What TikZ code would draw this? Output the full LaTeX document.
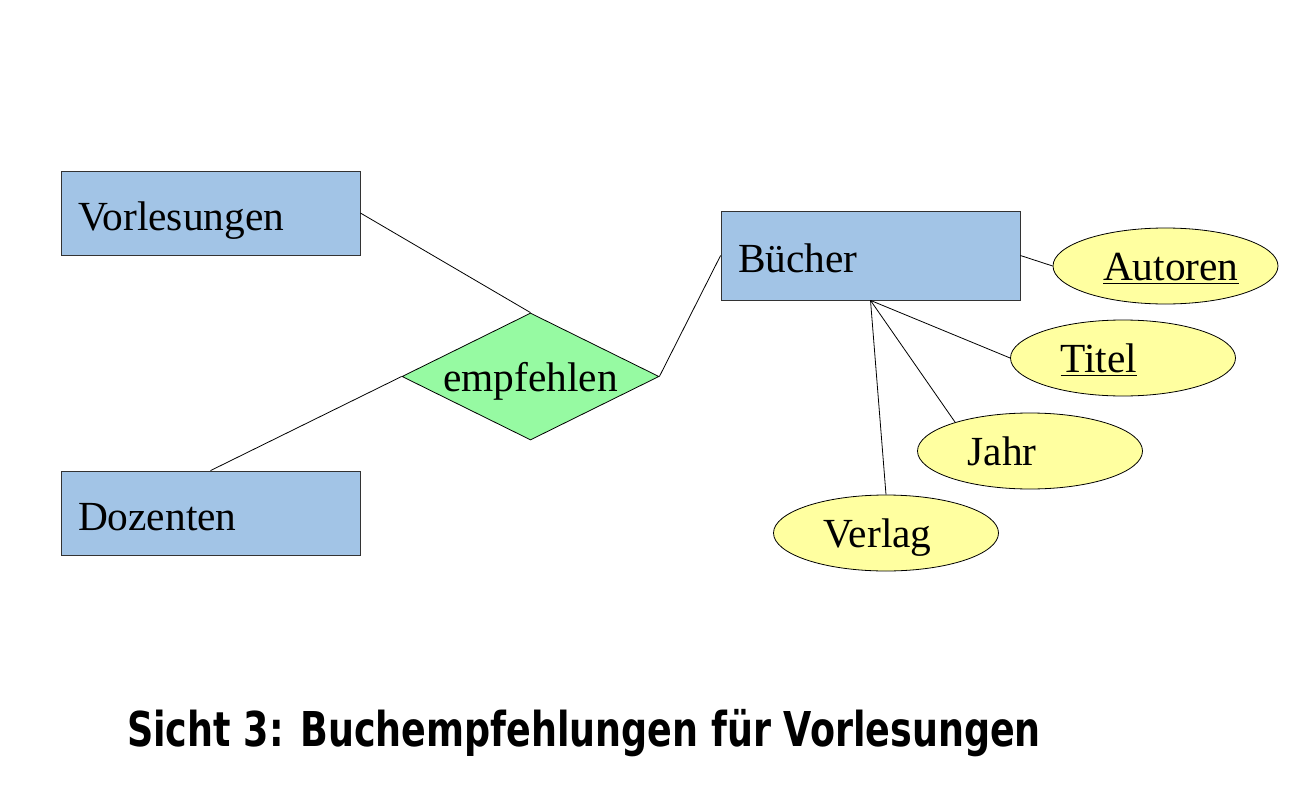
\documentclass[tikz,border=0pt]{standalone}
\usepackage{fontspec}
\setmainfont{Liberation Serif}
\newfontfamily\captfont{DejaVu Sans}[FakeStretch=0.76]
\usetikzlibrary{shapes.geometric}
\definecolor{entblue}{RGB}{162,196,230}
\definecolor{relgreen}{RGB}{150,250,162}
\definecolor{attyellow}{RGB}{255,255,160}
\begin{document}
\begin{tikzpicture}[x=0.5pt,y=-0.5pt,
  entity/.style={rectangle,draw=black!80,fill=entblue,minimum width=149.5pt,minimum height=42pt,
    inner xsep=8.5pt,text width=132.5pt,text height=17pt,text depth=0pt,align=left,
    font=\fontsize{20.7}{24}\selectfont},
  relation/.style={diamond,draw=black,fill=relgreen,inner sep=0pt,shape aspect=2,
    minimum width=128.5pt,minimum height=63.5pt,text height=15pt,text depth=0pt,
    font=\fontsize{20.7}{24}\selectfont},
  attrib/.style={ellipse,draw=black,fill=attyellow,minimum width=112.5pt,minimum height=38pt,
    inner xsep=0pt,text width=62.5pt,text height=14pt,text depth=0pt,align=left,
    font=\fontsize{20.7}{24}\selectfont}]
\useasboundingbox (0,0) rectangle (1316,808);
\node[entity] (vorl) at (210.5,213) {Vorlesungen};
\node[entity] (doz) at (210.5,513) {Dozenten};
\node[entity,minimum height=44.5pt] (buch) at (870.5,255.5) {B\"ucher};
\node[relation] (empf) at (530.5,376.5) {empfehlen};
\node[attrib] (autor) at (1165.5,266) {\underline{Autoren}};
\node[attrib] (titel) at (1123,358) {\underline{Titel}};
\node[attrib] (jahr) at (1030,451) {Jahr};
\node[attrib] (verlag) at (886,533) {Verlag};
\draw (vorl.east) -- (empf.north);
\draw (doz.north) -- (empf.west);
\draw (empf.east) -- (buch.west);
\draw (buch.east) -- (autor.west);
\draw (buch.south) -- (titel.west);
\draw (buch.south) -- (jahr.159);
\draw (buch.south) -- (verlag.north);
\node[font=\captfont\bfseries\fontsize{24}{28}\selectfont] (capt) at (584,733)
  {Sicht 3: Buchempfehlungen f\"ur Vorlesungen};
\end{tikzpicture}
\end{document}
